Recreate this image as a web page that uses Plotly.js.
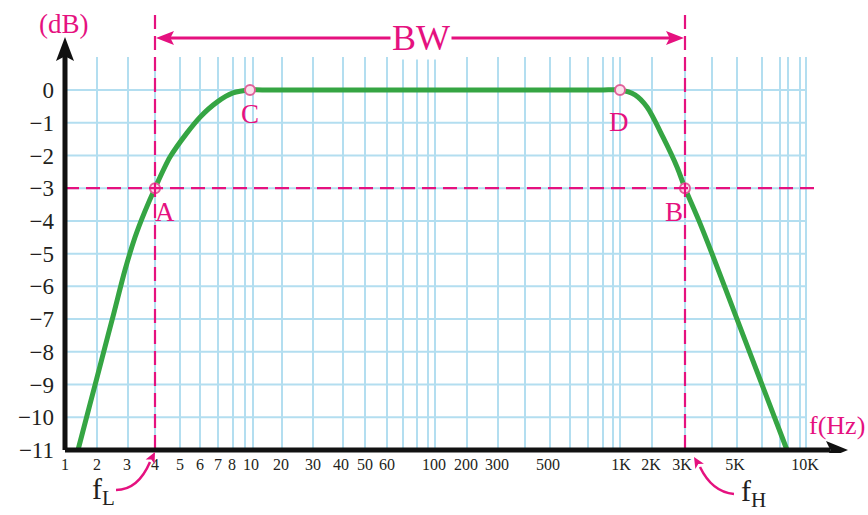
<!DOCTYPE html>
<html>
<head>
<meta charset="utf-8">
<script src="https://cdn.plot.ly/plotly-3.0.1.min.js"></script>
<style>html,body{margin:0;padding:0;background:#fff;}#chart{width:868px;height:515px;}</style>
</head>
<body>
<div id="chart"></div>
<script>
// ---- Data (x in axis position units of the hand-drawn frequency scale) ----
const tickLabels = ['1','2','3','4','5','6','7','8','10','20','30','40','50','60','100','200','300','500','1K','2K','3K','5K','10K'];
const tickPos = [65,97,127,155,180,200,218,232,251,281,313,341,365,387,434,466,497,548,621,651,682,735,805];
const dbTicks = [0,-1,-2,-3,-4,-5,-6,-7,-8,-9,-10,-11];
const dbLabels = ['0','\u22121','\u22122','\u22123','\u22124','\u22125','\u22126','\u22127','\u22128','\u22129','\u221210','\u221211'];
const curveX = [78,90,102,114,125,135,145,155,170,187,200,217,233,250,270,400,600,620,635,647,663,677,685,699,712,737,762,787];
const curveY = [-11,-9.6,-8.2,-6.8,-5.5,-4.5,-3.7,-3,-2.05,-1.31,-0.83,-0.37,-0.09,0,0,0,0,0,-0.15,-0.52,-1.44,-2.35,-3,-4.0,-5.0,-7.0,-9.0,-11];
const pointNames = ['A','B','C','D'];
const pointX = [155,685,250,620];
const pointY = [-3,-3,0,0];
const fL = 155, fH = 685, cutoffDb = -3;
const gridX = [97,128,155,180,200,218,233,245,253,282,313,343,365,387,403,417,428,435,467,498,525,550,570,588,603,613,620,652,685,712,737,762,780,788,800,806];
const gridDb = [0,-1,-2,-3,-4,-5,-6,-7,-8,-9,-10];

// ---- Geometry helpers (layout only) ----
const W = 868, H = 515, ML = 55, MB = 62, MT = 0, MR = 0;
const PX_PER_DB = 360/11, Y0PX = 90;
const plotBottom = H - MB;
const yTop = Y0PX / PX_PER_DB;
const yBot = -11 - (plotBottom - (Y0PX + 11*PX_PER_DB)) / PX_PER_DB;
const pyToDb = py => (Y0PX - py) / PX_PER_DB;
const dbPerPx = 1 / PX_PER_DB;
const paperX = px => (px - ML) / (W - ML - MR);
const paperY = py => (plotBottom - py) / (plotBottom - MT);

const PINK = '#e5117f';
const GREEN = '#35a543';
const GRID = '#b3def0';
const INK = '#231f20';
const SERIF = 'Liberation Serif, Times New Roman, serif';

const shapes = [];
// grid
gridX.forEach(g => shapes.push({type:'line', xref:'x', yref:'y', x0:g, x1:g, y0:-11, y1:pyToDb(57), line:{color:GRID, width:2}, layer:'below'}));
gridDb.forEach(g => shapes.push({type:'line', xref:'x', yref:'y', x0:65, x1:807, y0:g, y1:g, line:{color:GRID, width:2}, layer:'below'}));
// dashed reference lines
const dashStyle = {color:PINK, width:2.2, dash:'14px,7px'};
shapes.push({type:'line', xref:'x', yref:'y', x0:fL, x1:fL, y0:pyToDb(15), y1:-11, line:dashStyle});
shapes.push({type:'line', xref:'x', yref:'y', x0:fH, x1:fH, y0:pyToDb(15), y1:-11, line:dashStyle});
shapes.push({type:'line', xref:'x', yref:'y', x0:65, x1:820, y0:cutoffDb, y1:cutoffDb, line:dashStyle});
// axes
shapes.push({type:'line', xref:'x', yref:'y', x0:65, x1:830, y0:-11, y1:-11, line:{color:'#111', width:5}});
shapes.push({type:'line', xref:'x', yref:'y', x0:65, x1:65, y0:-11, y1:pyToDb(55), line:{color:'#111', width:5}});
function tri(tipX, tipPy, dx, dpy, half) {
  const len = Math.hypot(dx, dpy), nx = -dpy/len, ny = dx/len;
  const bx = tipX + dx, by = tipPy + dpy;
  const p = [[tipX, tipPy],[bx + nx*half, by + ny*half],[tipX + dx*0.8, tipPy + dpy*0.8],[bx - nx*half, by - ny*half]];
  return 'M ' + p.map(q => q[0] + ',' + pyToDb(q[1])).join(' L ') + ' Z';
}
shapes.push({type:'path', xref:'x', yref:'y', path:tri(848, 450, -22, 0, 9), fillcolor:'#111', line:{width:0}});
shapes.push({type:'path', xref:'x', yref:'y', path:tri(65, 37, 0, 24, 9), fillcolor:'#111', line:{width:0}});
// BW arrow
const bwPy = 38;
shapes.push({type:'line', xref:'x', yref:'y', x0:fL+10, x1:fH-10, y0:pyToDb(bwPy), y1:pyToDb(bwPy), line:{color:PINK, width:3}});
shapes.push({type:'path', xref:'x', yref:'y', path:tri(fL+1, bwPy, 18, 0, 7), fillcolor:PINK, line:{width:0}});
shapes.push({type:'path', xref:'x', yref:'y', path:tri(fH-1, bwPy, -18, 0, 7), fillcolor:PINK, line:{width:0}});
// curved pointer arrows for fL / fH (paper coords, outside plot area)
function curvedArrow(sx, sy, cx, cy, ex, ey, tx, ty) {
  shapes.push({type:'path', xref:'paper', yref:'paper',
    path:`M ${paperX(sx)},${paperY(sy)} Q ${paperX(cx)},${paperY(cy)} ${paperX(ex)},${paperY(ey)}`,
    line:{color:PINK, width:2.5}});
  const dx = ex - tx, dy = ey - ty, len = Math.hypot(dx, dy);
  const ux = dx/len, uy = dy/len, nx = -uy, ny = ux, L = 11, hw = 5;
  const bx = tx + ux*L, by = ty + uy*L;
  const pts = [[tx,ty],[bx+nx*hw,by+ny*hw],[tx+ux*L*0.75,ty+uy*L*0.75],[bx-nx*hw,by-ny*hw]];
  shapes.push({type:'path', xref:'paper', yref:'paper',
    path:'M ' + pts.map(p => paperX(p[0]) + ',' + paperY(p[1])).join(' L ') + ' Z',
    fillcolor:PINK, line:{width:0}});
}
curvedArrow(116, 490, 138, 490, 150, 462, 155, 452);
curvedArrow(734, 494, 712, 492, 700, 467, 694, 457);

const annotations = [];
const txt = (x, y, text, size, extra) => Object.assign({x, y, xref:'x', yref:'y', text, showarrow:false,
  font:{family:SERIF, size, color:PINK}, xanchor:'center', yanchor:'middle'}, extra || {});
annotations.push(txt(64, pyToDb(24), '(dB)', 27));
annotations.push(txt((fL+fH)/2 + 1, pyToDb(bwPy), 'BW', 36, {bgcolor:'#ffffff', borderpad:1}));
annotations.push(txt(837, pyToDb(425), 'f(Hz)', 26));
const labelOffsets = {A:[10, 24], B:[-11, 24], C:[0, 24], D:[-1, 32]};
pointNames.forEach((n, i) => {
  const o = labelOffsets[n];
  annotations.push(txt(pointX[i] + o[0], pointY[i] - o[1]*dbPerPx, n, 27));
});
annotations.push({xref:'paper', yref:'paper', x:paperX(103), y:paperY(491), text:'f<sub>L</sub>', showarrow:false,
  font:{family:SERIF, size:30, color:INK}, xanchor:'center', yanchor:'middle'});
annotations.push({xref:'paper', yref:'paper', x:paperX(753), y:paperY(493), text:'f<sub>H</sub>', showarrow:false,
  font:{family:SERIF, size:30, color:INK}, xanchor:'center', yanchor:'middle'});

const traces = [
  {x:curveX, y:curveY, type:'scatter', mode:'lines', line:{color:GREEN, width:5, shape:'spline', smoothing:0.8}, cliponaxis:false, hoverinfo:'skip'},
  {x:pointX, y:pointY, type:'scatter', mode:'markers', marker:{size:10, color:'#fbe1ec', line:{color:'#e0609a', width:2}}, cliponaxis:false, hoverinfo:'skip'}
];

const layout = {
  width:W, height:H, margin:{l:ML, r:MR, t:MT, b:MB, pad:0},
  paper_bgcolor:'#ffffff', plot_bgcolor:'#ffffff', showlegend:false,
  xaxis:{range:[ML, W], showgrid:false, zeroline:false, showline:false, ticks:'',
    tickmode:'array', tickvals:tickPos, ticktext:tickLabels, tickangle:0,
    tickfont:{family:SERIF, size:16, color:INK}, fixedrange:true},
  yaxis:{range:[yBot, yTop], showgrid:false, zeroline:false, showline:false, ticks:'',
    tickmode:'array', tickvals:dbTicks, ticktext:dbLabels,
    tickfont:{family:SERIF, size:23, color:INK}, fixedrange:true},
  shapes, annotations
};
Plotly.newPlot('chart', traces, layout, {staticPlot:true, displayModeBar:false});
</script>
</body>
</html>
